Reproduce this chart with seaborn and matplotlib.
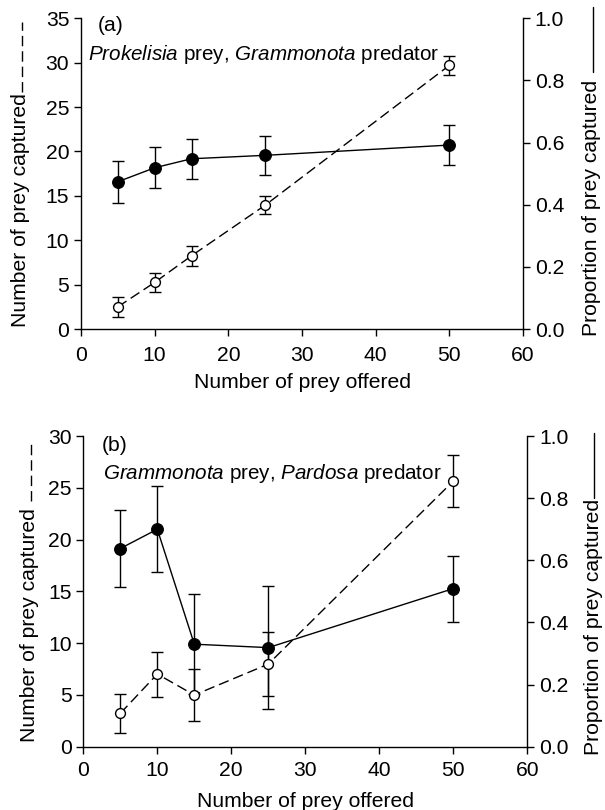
import numpy as np
import pandas as pd
import matplotlib
matplotlib.use("Agg")
import matplotlib.pyplot as plt
import seaborn as sns

# data
offered = [5, 10, 15, 25, 50]

# (a) Prokelisia prey, Grammonota predator
a_num = [2.5, 5.25, 8.25, 13.95, 29.7]
a_num_err = [1.15, 1.1, 1.1, 1.03, 1.1]
a_prop = [0.474, 0.519, 0.548, 0.559, 0.592]
a_prop_err = [0.068, 0.066, 0.065, 0.062, 0.065]

# (b) Grammonota prey, Pardosa predator
b_num = [3.22, 7.02, 4.99, 7.98, 25.65]
b_num_err = [1.87, 2.17, 2.5, 3.06, 2.51]
b_prop = [0.638, 0.70, 0.330, 0.319, 0.509]
b_prop_err = [0.125, 0.139, 0.161, 0.199, 0.106]

sns.set_style("ticks", {"axes.edgecolor": "black", "text.color": "black",
                        "xtick.color": "black", "ytick.color": "black",
                        "axes.labelcolor": "black"})
plt.rcParams['font.family'] = ['Liberation Sans', 'DejaVu Sans']
plt.rcParams['mathtext.fontset'] = 'custom'
plt.rcParams['mathtext.rm'] = 'Liberation Sans'
plt.rcParams['mathtext.it'] = 'Liberation Sans:italic'
plt.rcParams['font.size'] = 15.2
plt.rcParams['axes.linewidth'] = 1.0

DASH = (0, (7.5, 3.6))

fig = plt.figure(figsize=(6.05, 8.10), dpi=100)

def panel(rect, num, num_err, prop, prop_err, ymax, letter, let_xy, title,
          xpad, lblpad, lab_l, lab_r):
    ax = fig.add_axes(rect)
    ax2 = ax.twinx()
    ax.set_zorder(ax2.get_zorder() + 1)
    ax.patch.set_visible(False)

    df_n = pd.DataFrame({"offered": offered, "val": num})
    df_p = pd.DataFrame({"offered": offered, "val": prop})

    # proportion (solid, filled) on right axis
    ax2.errorbar(offered, prop, yerr=prop_err, fmt="none", ecolor="k",
                 elinewidth=1.0, capsize=4, capthick=1.0)
    sns.lineplot(data=df_p, x="offered", y="val", ax=ax2, color="k", lw=1.0,
                 marker="o", markersize=8.5, markerfacecolor="k",
                 markeredgecolor="k", errorbar=None)

    # number captured (dashed, open) on left axis
    ax.errorbar(offered, num, yerr=num_err, fmt="none", ecolor="k",
                elinewidth=1.0, capsize=4, capthick=1.0)
    sns.lineplot(data=df_n, x="offered", y="val", ax=ax, color="k", lw=1.0,
                 errorbar=None)
    ax.lines[-1].set_linestyle(DASH)
    sns.scatterplot(data=df_n, x="offered", y="val", ax=ax, s=50,
                    facecolor="white", edgecolor="k", linewidth=1.0, zorder=5)

    ax.set_xlim(0, 60)
    ax.set_ylim(0, ymax)
    ax2.set_ylim(0, 1.0)
    ax.set_xticks(np.arange(0, 61, 10))
    ax.set_yticks(np.arange(0, ymax + 1, 5))
    ax2.set_yticks(np.arange(0, 1.01, 0.2))
    ax2.set_yticklabels([f"{v:.1f}" for v in np.arange(0, 1.01, 0.2)])

    for s in ["top", "right"]:
        ax.spines[s].set_visible(False)
    for s in ["top", "left", "bottom"]:
        ax2.spines[s].set_visible(False)
    ax2.spines["right"].set_visible(True)

    ax.tick_params(axis="both", direction="out", length=5, width=1.0)
    ax.tick_params(axis="x", pad=xpad)
    ax.tick_params(axis="y", pad=3.5)
    ax2.tick_params(axis="y", direction="out", length=5, width=1.0, pad=3.5)

    ax.set_xlabel("Number of prey offered", labelpad=lblpad)
    ax.set_ylabel("")
    ax2.set_ylabel("")

    ax.text(let_xy[0], let_xy[1], f"({letter})", ha="left", va="center")
    ax.text(title[0], title[1], title[2], ha="left", va="center",
            fontsize=14.9)

    # axis titles with line keys
    lx, ly, ly0, ly1 = lab_l
    ax.text(lx, ly, "Number of prey captured", rotation=90, ha="center",
            va="center", transform=ax.transAxes)
    ax.plot([lx + 0.005, lx + 0.005], [ly0, ly1], color="k", lw=1.0,
            ls=DASH, transform=ax.transAxes, clip_on=False)
    rx, ry, ry0, ry1 = lab_r
    ax.text(rx, ry, "Proportion of prey captured", rotation=90, ha="center",
            va="center", transform=ax.transAxes)
    ax.plot([rx + 0.003, rx + 0.003], [ry0, ry1], color="k", lw=1.0,
            transform=ax.transAxes, clip_on=False)
    return ax

panel([0.1339, 0.5938, 0.7306, 0.3836], a_num, a_num_err, a_prop, a_prop_err,
      35, "a", (2.3, 34.2),
      (1.0, 30.9, r"$\it{Prokelisia}$ prey, $\it{Grammonota}$ predator"),
      7, 6,
      (-0.138, 0.383, 0.762, 0.988), (1.155, 0.391, 0.827, 1.036))

panel([0.1377, 0.0781, 0.7339, 0.3836], b_num, b_num_err, b_prop, b_prop_err,
      30, "b", (2.5, 29.1),
      (2.7, 26.4, r"$\it{Grammonota}$ prey, $\it{Pardosa}$ predator"),
      5, 9,
      (-0.122, 0.392, 0.79, 0.985), (1.148, 0.385, 0.80, 1.01))

fig.savefig("out.png", dpi=100)
